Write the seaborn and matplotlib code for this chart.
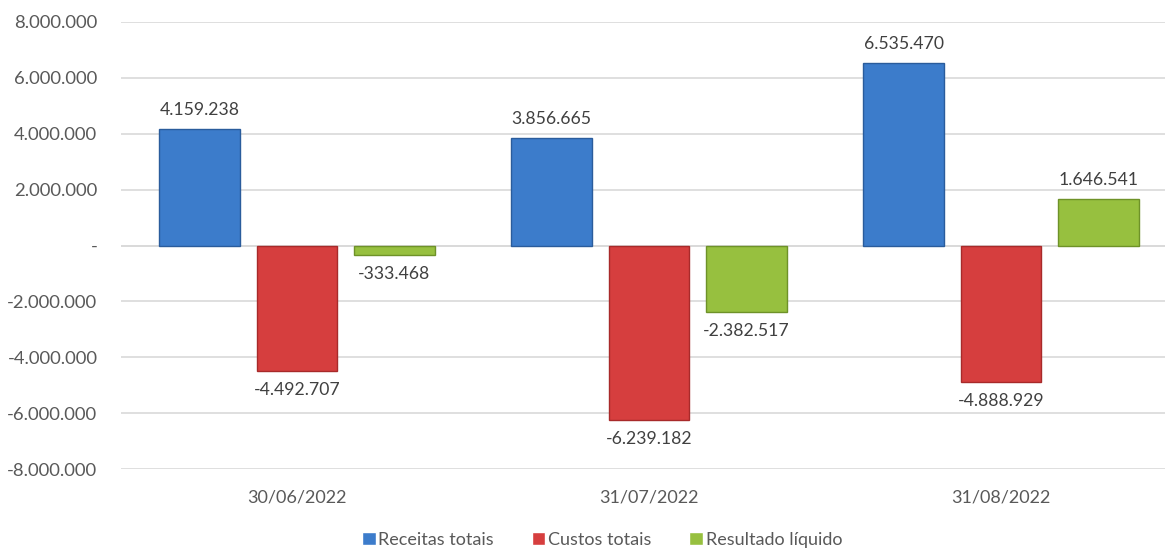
import pandas as pd
import seaborn as sns
import matplotlib.pyplot as plt
from matplotlib.ticker import FuncFormatter

# Data
dates = ["30/06/2022", "31/07/2022", "31/08/2022"]
series = ["Receitas totais", "Custos totais", "Resultado líquido"]
receitas = [4159238, 3856665, 6535470]
custos = [-4492707, -6239182, -4888929]
resultado = [-333468, -2382517, 1646541]

colors = ["#3C7CCB", "#D63E3E", "#97C03F"]
edges = ["#2A5C9C", "#A82A2A", "#6E9228"]

df = pd.DataFrame({
    "data": dates * 3,
    "serie": [s for s in series for _ in dates],
    "valor": receitas + custos + resultado,
})

sns.set_theme(style="white")
plt.rcParams["font.family"] = ["Lato", "DejaVu Sans"]

fig = plt.figure(figsize=(11.65, 5.49), dpi=100)
ax = fig.add_axes([121 / 1165, 80 / 549, 1056 / 1165, 447 / 549])

sns.barplot(data=df, x="data", y="valor", hue="serie", order=dates,
            hue_order=series, palette=colors, width=0.83, gap=0.17,
            saturation=1, ax=ax, legend=True)

for cont, ec in zip(ax.containers, edges):
    for bar in cont:
        bar.set_edgecolor(ec)
        bar.set_linewidth(1.0)
        bar.set_zorder(3)
    for bar in cont:
        v = bar.get_height()
        x = bar.get_x() + bar.get_width() / 2
        txt = f"{v:,.0f}".replace(",", ".")
        off = 8 if v >= 0 else -8
        ax.annotate(txt, (x, v), xytext=(0, off), textcoords="offset points",
                    ha="center", va="bottom" if v >= 0 else "top",
                    fontsize=12.7, color="#404040")

ax.set_ylim(-8000000, 8000000)
ax.set_yticks(range(-8000000, 8000001, 2000000))


def fmt(v, pos):
    if v == 0:
        return "-"
    return f"{v:,.0f}".replace(",", ".")


ax.yaxis.set_major_formatter(FuncFormatter(fmt))
ax.yaxis.grid(True, color="#D9D9D9", linewidth=1.2)
ax.set_axisbelow(True)
for s in ax.spines.values():
    s.set_visible(False)
ax.axhline(0, color="#D9D9D9", linewidth=1.2, zorder=1)

ax.tick_params(axis="y", length=0, pad=17, labelsize=13.3, labelcolor="#595959")
ax.tick_params(axis="x", length=0, pad=15, labelsize=13, labelcolor="#595959")
ax.set_xlabel("")
ax.set_ylabel("")

handles, labels = ax.get_legend_handles_labels()
ax.get_legend().remove()
fig.legend(handles, labels, loc="center", bbox_to_anchor=(602 / 1165, 9 / 549),
           ncol=3, frameon=False, fontsize=13, handlelength=0.75,
           handleheight=0.75, handletextpad=0.15, columnspacing=2.1,
           labelcolor="#595959")

fig.savefig("out.png", dpi=100)
